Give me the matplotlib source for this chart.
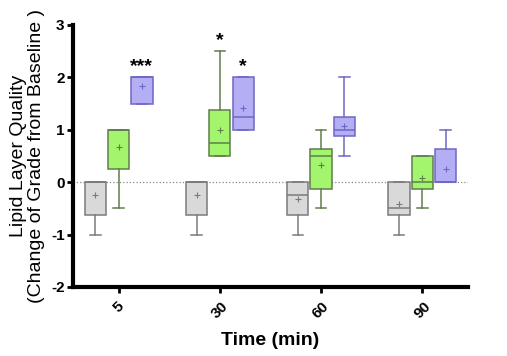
import numpy as np
import matplotlib
matplotlib.use('Agg')
import matplotlib.pyplot as plt

plt.rcParams['font.family'] = ['Liberation Sans', 'DejaVu Sans']

times = ['5', '30', '60', '90']
groups = ['gray', 'green', 'blue']

# per group, per time: (whislo, q1, med, q3, whishi, mean)
gray_stats = [(-1.0, -0.625, 0.0, 0.0, 0.0, -0.25),
              (-1.0, -0.625, 0.0, 0.0, 0.0, -0.25),
              (-1.0, -0.625, -0.25, 0.0, 0.0, -0.33),
              (-1.0, -0.625, -0.5, 0.0, 0.0, -0.42)]
green_stats = [(-0.5, 0.25, 1.0, 1.0, 1.0, 0.67),
               (0.5, 0.5, 0.75, 1.375, 2.5, 1.0),
               (-0.5, -0.125, 0.5, 0.625, 1.0, 0.33),
               (-0.5, -0.125, 0.0, 0.5, 0.5, 0.08)]
blue_stats = [(1.5, 1.5, 2.0, 2.0, 2.0, 1.83),
              (1.0, 1.0, 1.25, 2.0, 2.0, 1.42),
              (0.5, 0.875, 1.0, 1.25, 2.0, 1.08),
              (0.0, 0.0, 0.0, 0.625, 1.0, 0.25)]
stars = {(0, 2): '***', (1, 1): '*', (1, 2): '*'}

fills = ['#d9d9d9', '#a3f56e', '#b4aef5']
edges = ['#7a7a7a', '#5f7d4c', '#6f67c4']
offsets = [-0.23, 0.0, 0.23]
width = 0.21

fig = plt.figure(figsize=(5.07, 3.56), dpi=100)
ax = fig.add_axes([0.144, 0.194, 0.779, 0.736])

for g, data in enumerate([gray_stats, green_stats, blue_stats]):
    stats = []
    for lo, q1, med, q3, hi, mean in data:
        stats.append(dict(whislo=lo, q1=q1, med=med, q3=q3, whishi=hi,
                          mean=mean, fliers=[]))
    pos = np.arange(len(times)) + offsets[g]
    ax.bxp(stats, positions=pos, widths=width, patch_artist=True,
           showmeans=True, showcaps=True,
           boxprops=dict(facecolor=fills[g], edgecolor=edges[g], lw=1.1),
           medianprops=dict(color=edges[g], lw=1.1),
           whiskerprops=dict(color=edges[g], lw=1.1),
           capprops=dict(color=edges[g], lw=1.1),
           capwidths=width * 0.5,
           meanprops=dict(marker='+', markeredgecolor=edges[g],
                          markersize=4, markeredgewidth=0.8))

for (t, g), s in stars.items():
    top = [gray_stats, green_stats, blue_stats][g][t][4]
    ax.text(t + offsets[g], top + 0.04, s, ha='center', va='bottom',
            fontsize=14, fontweight='bold')

ax.axhline(0, color='#888888', ls=':', lw=0.9, zorder=0)

ax.set_xlim(-0.45, 3.45)
ax.set_ylim(-2, 3)
ax.set_xticks(np.arange(len(times)))
ax.set_xticklabels(times, rotation=45, fontweight='bold', fontsize=11)
ax.set_yticks(np.arange(-2, 4))
ax.set_yticklabels([str(v) for v in range(-2, 4)], fontweight='bold', fontsize=11)
ax.spines['top'].set_visible(False)
ax.spines['right'].set_visible(False)
ax.spines['left'].set_linewidth(3)
ax.spines['bottom'].set_linewidth(3)
ax.tick_params(width=2, length=4, pad=2)
ax.tick_params(axis='x', pad=5)

ax.set_xlabel('Time (min)', fontsize=14, fontweight='bold', labelpad=8)
ax.set_ylabel('Lipid Layer Quality\n(Change of Grade from Baseline )',
              fontsize=14, labelpad=4, linespacing=1.1)

fig.savefig('out.png', dpi=100)
